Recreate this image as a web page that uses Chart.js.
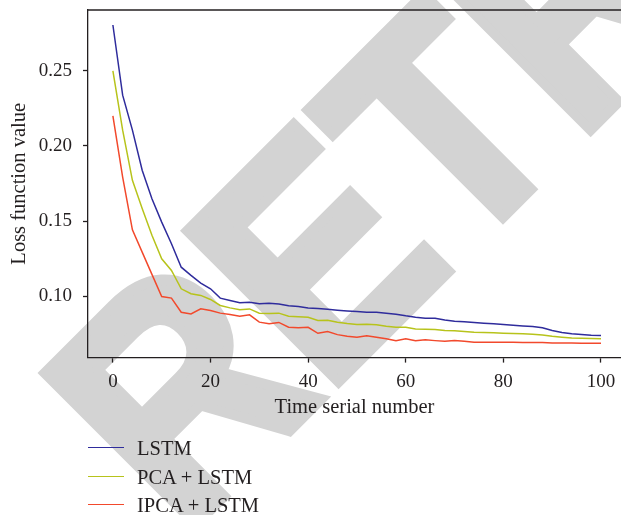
<!DOCTYPE html>
<html>
<head>
<meta charset="utf-8">
<script src="https://cdn.jsdelivr.net/npm/chart.js@4/dist/chart.umd.min.js"></script>
<style>
  body { margin: 0; background: #fff; }
  #wrap { position: relative; width: 621px; height: 515px; overflow: hidden; }
  #legend { position: absolute; left: 0; top: 0; font-family: "Liberation Serif", serif; font-size: 20.5px; color: #231f20; }
  .item { position: absolute; left: 88px; height: 20px; white-space: nowrap; }
  .item span.line { position: absolute; left: 0; top: 9px; width: 36px; height: 0; border-top: 1.5px solid; }
  .item span.txt { position: absolute; left: 49px; top: 0; line-height: 20px; }
</style>
</head>
<body>
<div id="wrap">
  <canvas id="chart" width="621" height="515"></canvas>
  <div id="legend"></div>
</div>
<script>
const timeSerial = [0, 2, 4, 6, 8, 10, 12, 14, 16, 18, 20, 22, 24, 26, 28, 30, 32, 34, 36, 38, 40,
  42, 44, 46, 48, 50, 52, 54, 56, 58, 60, 62, 64, 66, 68, 70, 72, 74, 76, 78, 80,
  82, 84, 86, 88, 90, 92, 94, 96, 98, 100];

const lstm = [0.2805, 0.2338, 0.2105, 0.1838, 0.1649, 0.1493, 0.1349, 0.1193, 0.1138, 0.1087, 0.1049,
  0.0987, 0.0971, 0.0956, 0.0960, 0.0950, 0.0953, 0.0948, 0.0936, 0.0931, 0.0922,
  0.0918, 0.0913, 0.0907, 0.0902, 0.0898, 0.0893, 0.0893, 0.0887, 0.0880, 0.0869,
  0.0860, 0.0853, 0.0853, 0.0842, 0.0833, 0.0829, 0.0824, 0.0820, 0.0816, 0.0811,
  0.0807, 0.0802, 0.0798, 0.0789, 0.0771, 0.0758, 0.0749, 0.0745, 0.0740, 0.0738];

const pcaLstm = [0.2500, 0.2105, 0.1771, 0.1583, 0.1405, 0.1249, 0.1171, 0.1049, 0.1016, 0.1005, 0.0978,
  0.0938, 0.0922, 0.0909, 0.0915, 0.0887, 0.0884, 0.0887, 0.0867, 0.0863, 0.0860,
  0.0838, 0.0840, 0.0827, 0.0818, 0.0811, 0.0813, 0.0809, 0.0800, 0.0793, 0.0793,
  0.0782, 0.0780, 0.0778, 0.0771, 0.0769, 0.0764, 0.0760, 0.0758, 0.0756, 0.0753,
  0.0751, 0.0749, 0.0747, 0.0742, 0.0733, 0.0727, 0.0722, 0.0720, 0.0718, 0.0716];

const ipcaLstm = [0.2200, 0.1793, 0.1442, 0.1293, 0.1145, 0.0998, 0.0987, 0.0893, 0.0882, 0.0916, 0.0905,
  0.0887, 0.0878, 0.0867, 0.0876, 0.0827, 0.0816, 0.0825, 0.0793, 0.0789, 0.0793,
  0.0753, 0.0764, 0.0744, 0.0733, 0.0727, 0.0736, 0.0727, 0.0716, 0.0704, 0.0716,
  0.0704, 0.0709, 0.0704, 0.0700, 0.0704, 0.0700, 0.0693, 0.0693, 0.0693, 0.0693,
  0.0693, 0.0691, 0.0691, 0.0691, 0.0689, 0.0689, 0.0689, 0.0687, 0.0687, 0.0687];

const xTicks = [0, 20, 40, 60, 80, 100];
const yTicks = [0.10, 0.15, 0.20, 0.25];

const seriesNames = ['LSTM', 'PCA + LSTM', 'IPCA + LSTM'];
const seriesColors = ['#2f2c9c', '#b7c31b', '#f2492c'];
const axisColor = '#231f20';
const serif = '"Liberation Serif", "Times New Roman", serif';

function toPoints(values) {
  return timeSerial.map((x, i) => ({ x: x, y: values[i] }));
}

// big grey watermark behind the plot, text runs up-right at 45 deg
const watermark = {
  id: 'watermark',
  beforeDraw(chart) {
    const ctx = chart.ctx;
    ctx.save();
    ctx.translate(182.5, 537.5);
    ctx.rotate(-Math.PI / 4);
    ctx.scale(0.9, 1);
    ctx.font = 'bold 310px "Liberation Sans"';
    ctx.fillStyle = '#d3d3d3';
    ctx.strokeStyle = '#d3d3d3';
    ctx.lineWidth = 11;
    ctx.lineJoin = 'miter';
    ctx.fillText('RETRACTED', 0, 0);
    ctx.strokeText('RETRACTED', 0, 0);
    ctx.restore();
  }
};

// top frame line
const topBorder = {
  id: 'topBorder',
  afterDraw(chart) {
    const a = chart.chartArea;
    const ctx = chart.ctx;
    ctx.save();
    ctx.strokeStyle = axisColor;
    ctx.lineWidth = 1.3;
    ctx.beginPath();
    ctx.moveTo(a.left, a.top);
    ctx.lineTo(a.right, a.top);
    ctx.stroke();
    ctx.restore();
  }
};

const data = {
  datasets: [lstm, pcaLstm, ipcaLstm].map((vals, i) => ({
    label: seriesNames[i],
    data: toPoints(vals),
    borderColor: seriesColors[i],
    backgroundColor: seriesColors[i],
    borderWidth: 1.5,
    pointRadius: 0,
    tension: 0,
    fill: false
  }))
};

const chart = new Chart(document.getElementById('chart'), {
  type: 'line',
  data: data,
  options: {
    responsive: false,
    animation: false,
    layout: { padding: { left: 0, right: 0, top: 0, bottom: 95 } },
    plugins: { legend: { display: false }, tooltip: { enabled: false } },
    scales: {
      x: {
        type: 'linear',
        min: -5.1,
        max: 104.1,
        afterBuildTicks: (scale) => { scale.ticks = xTicks.map(v => ({ value: v })); },
        afterFit: (scale) => { scale.paddingRight = 0; },
        grid: { drawOnChartArea: false, drawTicks: true, tickLength: 5, color: axisColor, tickWidth: 1.3 },
        border: { display: true, color: axisColor, width: 1.3 },
        ticks: { color: axisColor, font: { family: serif, size: 19 }, padding: 8, maxRotation: 0 },
        title: { display: true, text: 'Time serial number', color: axisColor, font: { family: serif, size: 20.5 }, padding: { top: -6, bottom: 0 } }
      },
      y: {
        min: 0.0591,
        max: 0.2905,
        afterBuildTicks: (scale) => { scale.ticks = yTicks.map(v => ({ value: v })); },
        afterFit: (scale) => { scale.width = 88; scale.paddingTop = 10; scale.paddingBottom = 0; },
        grid: { drawOnChartArea: false, drawTicks: true, tickLength: 5, color: axisColor, tickWidth: 1.3 },
        border: { display: true, color: axisColor, width: 1.3 },
        ticks: { color: axisColor, font: { family: serif, size: 19 }, padding: 11, callback: v => v.toFixed(2) },
        title: { display: true, text: 'Loss function value', color: axisColor, font: { family: serif, size: 20.5 }, padding: { top: 7, bottom: 0 } }
      }
    }
  },
  plugins: [watermark, topBorder]
});

// legend below the axis, one entry per row
const legend = document.getElementById('legend');
const legendTops = [438, 467, 495];
data.datasets.forEach((ds, i) => {
  const row = document.createElement('div');
  row.className = 'item';
  row.style.top = legendTops[i] + 'px';
  row.innerHTML = '<span class="line" style="border-color:' + ds.borderColor + '"></span><span class="txt">' + ds.label + '</span>';
  legend.appendChild(row);
});
</script>
</body>
</html>
